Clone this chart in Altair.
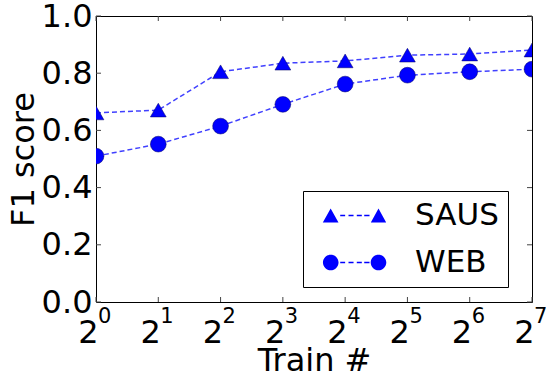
import altair as alt
import pandas as pd

# ---- data ----
train = [1, 2, 4, 8, 16, 32, 64, 128]
exponents = ["0", "1", "2", "3", "4", "5", "6", "7"]
saus = [0.661, 0.671, 0.805, 0.835, 0.843, 0.863, 0.867, 0.881]
web = [0.510, 0.552, 0.615, 0.691, 0.762, 0.793, 0.805, 0.814]
series = ["SAUS", "WEB"]
y_ticks = [0.0, 0.2, 0.4, 0.6, 0.8, 1.0]

W, H = 436, 286
FONT = "DejaVu Sans"

df = pd.DataFrame({
    "train": train * 2,
    "f1": saus + web,
    "series": ["SAUS"] * len(train) + ["WEB"] * len(train),
})
df_x = pd.DataFrame({"train": train, "exp": exponents})
df_y = pd.DataFrame({"f1": y_ticks})

x_enc = alt.X(
    "train:Q",
    scale=alt.Scale(type="log", base=2, domain=[1, 128], nice=False),
    axis=alt.Axis(
        values=train, labelExpr="'2'", labelAlign="right", labelOffset=2,
        labelBaseline="alphabetic", labelPadding=40, ticks=False, tickSize=0,
        domain=False, grid=False, labelFlush=False, labelOverlap=False,
        labelBound=False, title="Train #", titleX=218, titleY=68,
        titleBaseline="alphabetic",
    ),
)
y_enc = alt.Y(
    "f1:Q",
    scale=alt.Scale(domain=[0, 1], nice=False),
    axis=alt.Axis(
        values=y_ticks, format=".1f", labelPadding=4, ticks=False, tickSize=0,
        domain=False, grid=False, labelFlush=False, labelOverlap=False,
        title="F1 score", titleX=-63, titleY=143, titleBaseline="alphabetic",
        titleAngle=-90, titleAlign="center",
    ),
)

tri_path = ("M-0.39,0.58L0.2625,-0.58L0.917,0.58Z"
            "M1.06,-0.0625H1.47V0.0625H1.06Z"
            "M1.75,-0.0625H2.17V0.0625H1.75Z"
            "M2.44,-0.0625H2.86V0.0625H2.44Z"
            "M3.06,-0.0625H3.5V0.0625H3.06Z"
            "M3.61,0.58L4.25,-0.58L4.89,0.58Z")
circ_path = ("M-0.38,0A0.65,0.65 0 1,0 0.92,0A0.65,0.65 0 1,0 -0.38,0Z"
             "M1.06,-0.0625H1.47V0.0625H1.06Z"
             "M1.75,-0.0625H2.17V0.0625H1.75Z"
             "M2.44,-0.0625H2.86V0.0625H2.44Z"
             "M3.06,-0.0625H3.5V0.0625H3.06Z"
             "M3.6,0A0.65,0.65 0 1,0 4.9,0A0.65,0.65 0 1,0 3.6,0Z")

legend = alt.Legend(
    title=None, orient="none", legendX=207, legendY=175, padding=9,
    strokeColor="black", fillColor="white", cornerRadius=0,
    symbolSize=576, labelOffset=72, labelFontSize=31, labelFont=FONT,
    labelColor="black", rowPadding=15, symbolFillColor="blue",
    symbolStrokeWidth=0, symbolOpacity=1,
)

base = alt.Chart(df)

lines = base.mark_line(
    strokeDash=[5, 3], strokeWidth=1.5, color="blue", opacity=0.75, clip=True
).encode(x=x_enc, y=y_enc, detail="series:N")

points = base.mark_point(
    filled=True, size=250, clip=True, stroke="#000060", strokeWidth=0.5, opacity=1
).encode(
    x=x_enc, y=y_enc,
    shape=alt.Shape("series:N",
                    scale=alt.Scale(domain=series, range=["triangle-up", "circle"]),
                    legend=None),
    color=alt.value("blue"),
)

legend_layer = base.transform_filter("false").mark_point(
    filled=True, opacity=1
).encode(
    x=alt.value(0), y=alt.value(0),
    shape=alt.Shape("series:N",
                    scale=alt.Scale(domain=series, range=[tri_path, circ_path]),
                    legend=legend),
    color=alt.value("blue"),
)

exps = alt.Chart(df_x).mark_text(
    align="left", baseline="alphabetic", dx=2, fontSize=21, font=FONT, color="black"
).encode(x=x_enc, y=alt.value(H + 21), text="exp:N")

tick_color = "#444444"
yt_left = alt.Chart(df_y).mark_rule(color=tick_color, strokeWidth=1).encode(
    y=y_enc, x=alt.value(0), x2=alt.value(5))
yt_right = alt.Chart(df_y).mark_rule(color=tick_color, strokeWidth=1).encode(
    y=y_enc, x=alt.value(W - 5), x2=alt.value(W))
xt_bottom = alt.Chart(df_x).mark_rule(color=tick_color, strokeWidth=1).encode(
    x=x_enc, y=alt.value(H - 5), y2=alt.value(H))
xt_top = alt.Chart(df_x).mark_rule(color=tick_color, strokeWidth=1).encode(
    x=x_enc, y=alt.value(0), y2=alt.value(5))

chart = alt.layer(
    yt_left, yt_right, xt_bottom, xt_top, lines, points, exps, legend_layer
).resolve_scale(
    shape="independent"
).properties(
    width=W, height=H, autosize="none",
    padding={"left": 96, "top": 16, "right": 14, "bottom": 73},
    background="white",
).configure_view(
    stroke="black", strokeWidth=1
).configure_axis(
    labelFont=FONT, labelFontSize=32, labelColor="black",
    titleFont=FONT, titleFontSize=32, titleColor="black", titleFontWeight="normal",
)

chart.save("out.html", embed_options={"renderer": "svg", "actions": False})
